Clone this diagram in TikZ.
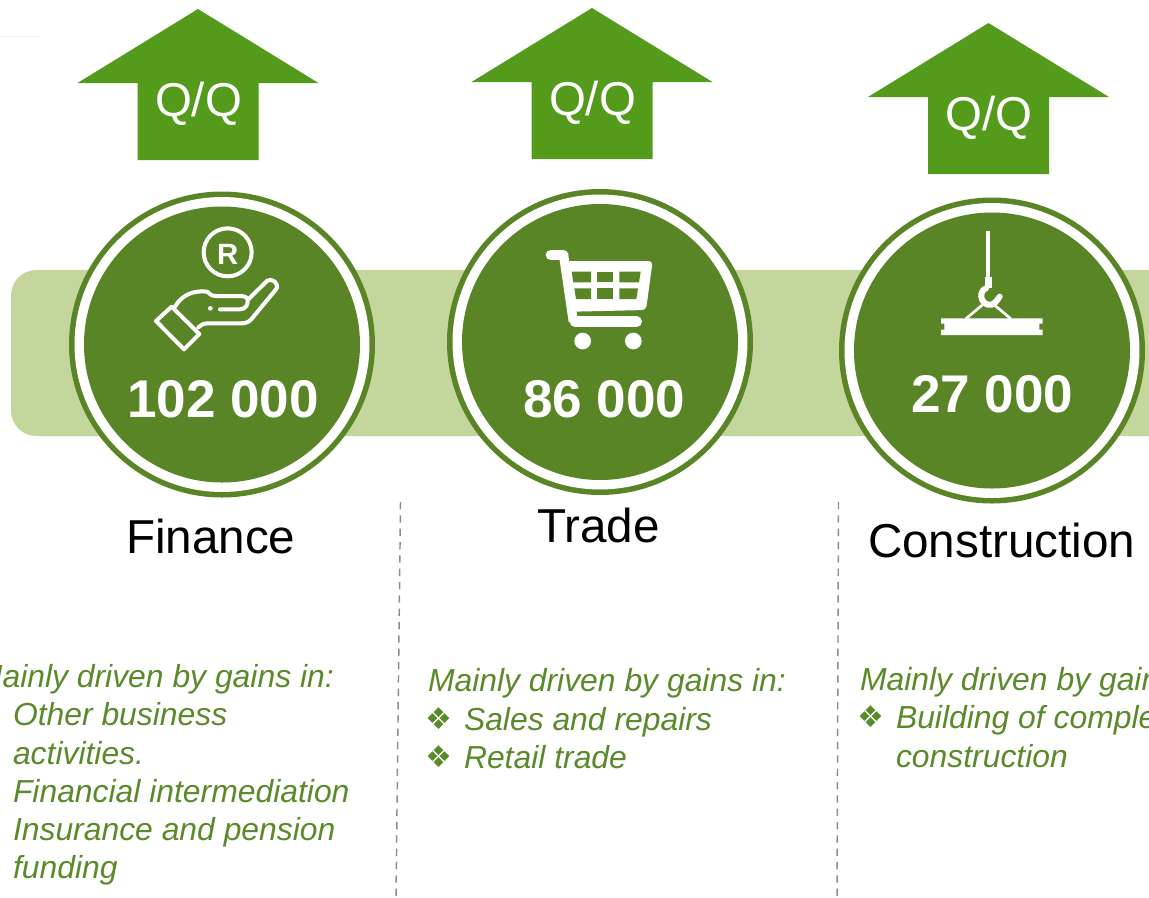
\documentclass[tikz,border=0pt]{standalone}
\usepackage{fontspec}
\setmainfont{Liberation Sans}
\newfontfamily\symfont{DejaVu Sans}
\definecolor{arrowgreen}{HTML}{549B1B}
\definecolor{discgreen}{HTML}{5A8527}
\definecolor{bargreen}{HTML}{C3D69B}
\definecolor{textgreen}{HTML}{5A8A2A}
\tikzset{
  upshape/.style={fill=arrowgreen,draw=none},
  lbl/.style={inner sep=0pt,outer sep=0pt,anchor=base west},
  qq/.style={lbl,text=white,font=\fontsize{35.6}{40}\selectfont},
  amount/.style={lbl,text=white,font=\fontsize{39.8}{44}\selectfont\bfseries},
  sector/.style={lbl,text=black,font=\fontsize{35.7}{40}\selectfont},
  note/.style={lbl,text=textgreen,font=\fontsize{23.9}{28}\selectfont\itshape},
  bul/.style={lbl,text=textgreen,font=\fontsize{22.5}{26}\selectfont\symfont},
  sep/.style={draw=gray!90,line width=1.1pt,dash pattern=on 5.5pt off 4.5pt},
  outerdisc/.style={circle,fill=discgreen,draw=none,minimum size=229.5pt,inner sep=0pt},
  iconw/.style={draw=white,line width=3pt,line cap=round,line join=round},
}
\newcommand{\disc}[3]{%
  \node[outerdisc] (#3) at (#1,#2) {};
  \fill[white] (#3.center) circle (110.6pt);
  \fill[discgreen] (#3.center) circle (103.5pt);
}
\newcommand{\uparr}[3]{% apex x, apex y, name
  \fill[upshape] (#1,#2) -- ++(120.5,74) -- ++(-60,0) -- ++(0,77) -- ++(-121,0) -- ++(0,-77) -- ++(-60,0) -- cycle;
  \coordinate (#3) at (#1,#2);
}
\begin{document}
\begin{tikzpicture}[x=0.75pt,y=-0.75pt]
\useasboundingbox (0,0) rectangle (1149,897);
\clip (0,0) rectangle (1149,897);
\draw[black!6,line width=0.6pt] (0,36) -- (40,36);
\fill[bargreen,rounded corners=19pt] (11,270) rectangle (1175,436);
\uparr{198}{9}{a1}
\uparr{592}{8}{a2}
\uparr{988.5}{23}{a3}
\node[qq] (q1) at (155,116) {Q/Q};
\node[qq] (q2) at (549,115) {Q/Q};
\node[qq] (q3) at (945.5,130) {Q/Q};
\disc{222}{344.5}{d1}
\disc{600}{342}{d2}
\disc{992}{350.5}{d3}
% hand icon
\begin{scope}[shift={(130,210)},x=0.25pt,y=-0.25pt]
\draw[iconw] (293,127) circle (72);
\node[inner sep=0pt,text=white,font=\fontsize{22}{24}\selectfont\bfseries] (rmark) at (293,133) {R};
\draw[iconw] (78,333) -- (125,290) -- (208,372) -- (162,418) -- cycle;
\draw[iconw] (135,290) .. controls (155,255) and (190,240) .. (232,245) .. controls (245,258) and (250,258) .. (258,258) -- (330,258) .. controls (345,258) and (352,263) .. (355,268) -- (412,212) .. controls (425,203) and (450,220) .. (438,238) -- (372,318) .. controls (360,335) and (350,340) .. (335,340) -- (235,340) .. controls (220,340) and (212,345) .. (205,352);
\draw[iconw] (270,298) -- (330,298) .. controls (348,298) and (355,282) .. (353,268);
\fill[white] (241,295) circle (7);
\end{scope}
% cart icon
\begin{scope}[shift={(520,230)},x=0.25pt,y=-0.25pt]
\draw[white,line width=7.5pt,line cap=round,line join=round] (92,75) -- (130,75);
\draw[white,line width=7pt,line join=round] (130,70) -- (160,275);
\draw[white,line width=8pt,line cap=round] (165,275) -- (350,275);
\fill[white,rounded corners=3pt] (140,93) -- (398,93) -- (378,240) -- (160,245) -- cycle;
\fill[discgreen] (155,125) -- (213,125) -- (213,157) -- (160,157) -- cycle;
\fill[discgreen] (232,125) rectangle (280,157);
\fill[discgreen] (298,125) -- (362,125) -- (357,157) -- (298,157) -- cycle;
\fill[discgreen] (163,175) -- (213,175) -- (213,207) -- (168,207) -- cycle;
\fill[discgreen] (232,175) rectangle (280,207);
\fill[discgreen] (298,175) -- (354,175) -- (349,207) -- (298,207) -- cycle;
\fill[white] (188,333) circle (25);
\fill[white] (340,333) circle (25);
\end{scope}
% crane icon
\begin{scope}[shift={(920,220)},x=0.25pt,y=-0.25pt]
\fill[white] (199,33) rectangle (211,172);
\fill[white] (195,170) rectangle (216,205);
\draw[white,line width=4.5pt,line cap=round] (198,205) .. controls (178,212) and (178,245) .. (203,254) .. controls (222,258) and (230,242) .. (239,230);
\draw[white,line width=2pt] (188,254) -- (138,296);
\draw[white,line width=2pt] (222,254) -- (272,296);
\fill[white] (63,295) -- (368,295) -- (368,311) -- (358,311) -- (358,329) -- (368,329) -- (368,345) -- (63,345) -- (63,329) -- (73,329) -- (73,311) -- (63,311) -- cycle;
\end{scope}
\node[amount] (v1) at (127,417) {102 000};
\node[amount] (v2) at (523,417) {86 000};
\node[amount] (v3) at (911,412) {27 000};
\node[sector] (s1) at (126,553) {Finance};
\node[sector] (s2) at (537,542) {Trade};
\node[sector] (s3) at (868,557) {Construction};
\coordinate (l1a) at (400.5,502);
\coordinate (l1b) at (396,897);
\coordinate (l2a) at (838.5,502);
\coordinate (l2b) at (837,897);
\draw[sep] (l1a) -- (l1b);
\draw[sep] (l2a) -- (l2b);
\node[note] (n1) at (-24,687) {Mainly driven by gains in:};
\node[note] (n1a) at (13,725) {Other business};
\node[note] (n1b) at (13,764) {activities.};
\node[note] (n1c) at (13,802) {Financial intermediation};
\node[note] (n1d) at (13,840) {Insurance and pension};
\node[note] (n1e) at (13,878) {funding};
\node[note] (n2) at (428,691) {Mainly driven by gains in:};
\node[bul] (b2a) at (425.5,729) {❖};
\node[note] (n2a) at (464,730) {Sales and repairs};
\node[bul] (b2b) at (425.5,767) {❖};
\node[note] (n2b) at (464,768) {Retail trade};
\node[note] (n3) at (860,690) {Mainly driven by gains in:};
\node[bul] (b3a) at (857.5,727) {❖};
\node[note] (n3a) at (896,728) {Building of complex};
\node[note] (n3b) at (896,767) {construction};
\end{tikzpicture}
\end{document}
